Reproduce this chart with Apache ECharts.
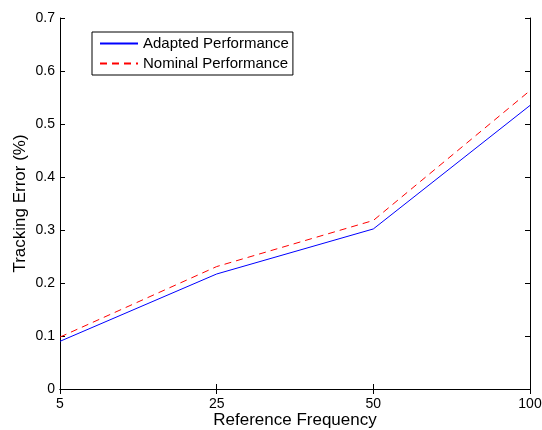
<!DOCTYPE html>
<html>
<head>
<meta charset="utf-8">
<script src="https://cdn.jsdelivr.net/npm/echarts@6/dist/echarts.min.js"></script>
<style>
  html, body { margin: 0; padding: 0; background: #fff; }
  #chart { width: 542px; height: 430px; }
</style>
</head>
<body>
<div id="chart"></div>
<script>
const frequencies = ['5', '25', '50', '100'];
const adapted = [0.090, 0.217, 0.302, 0.535];
const nominal = [0.098, 0.231, 0.318, 0.563];
const yTicks = { min: 0, max: 0.7, interval: 0.1 };

const font = 'Liberation Sans, Arial, Helvetica, sans-serif';
const chart = echarts.init(document.getElementById('chart'));

const option = {
  animation: false,
  backgroundColor: '#fff',
  grid: { left: 60, right: 12, top: 18, bottom: 41, containLabel: false, outerBoundsMode: 'none' },
  legend: {
    orient: 'vertical',
    left: 92,
    top: 32,
    padding: [4, 4, 4, 7],
    itemGap: 5,
    itemWidth: 38,
    itemHeight: 14,
    borderColor: '#000',
    borderWidth: 1,
    backgroundColor: '#fff',
    itemStyle: { opacity: 0 },
    textStyle: { fontFamily: font, fontSize: 15, color: '#000' },
    data: ['Adapted Performance', 'Nominal Performance']
  },
  xAxis: [
    {
      type: 'category',
      data: frequencies,
      boundaryGap: false,
      name: 'Reference Frequency',
      nameLocation: 'middle',
      nameGap: 23,
      nameMoveOverlap: false,
      nameTextStyle: { fontFamily: font, fontSize: 17, color: '#000' },
      axisLine: { lineStyle: { color: '#000', width: 1 } },
      axisTick: { inside: true, length: 5, lineStyle: { color: '#000' } },
      axisLabel: { fontFamily: font, fontSize: 14, color: '#000', margin: 8 },
      splitLine: { show: false }
    },
    {
      type: 'category',
      data: frequencies,
      boundaryGap: false,
      position: 'top',
      axisLine: { lineStyle: { color: '#000', width: 1 } },
      axisTick: { inside: true, length: 5, lineStyle: { color: '#000' } },
      axisLabel: { show: false },
      splitLine: { show: false }
    }
  ],
  yAxis: [
    {
      type: 'value',
      min: yTicks.min,
      max: yTicks.max,
      interval: yTicks.interval,
      name: 'Tracking Error (%)',
      nameLocation: 'middle',
      nameGap: 31,
      nameMoveOverlap: false,
      nameTextStyle: { fontFamily: font, fontSize: 17, color: '#000' },
      axisLine: { show: true, lineStyle: { color: '#000', width: 1 } },
      axisTick: { show: true, inside: true, length: 5, lineStyle: { color: '#000' } },
      axisLabel: { fontFamily: font, fontSize: 14, color: '#000', margin: 5 },
      splitLine: { show: false }
    },
    {
      type: 'value',
      position: 'right',
      min: yTicks.min,
      max: yTicks.max,
      interval: yTicks.interval,
      axisLine: { show: true, lineStyle: { color: '#000', width: 1 } },
      axisTick: { show: true, inside: true, length: 5, lineStyle: { color: '#000' } },
      axisLabel: { show: false },
      splitLine: { show: false }
    }
  ],
  series: [
    {
      name: 'Adapted Performance',
      type: 'line',
      data: adapted,
      showSymbol: false,
      symbol: 'none',
      itemStyle: { color: '#0000ff' },
      lineStyle: { color: '#0000ff', width: 1 }
    },
    {
      name: 'Nominal Performance',
      type: 'line',
      data: nominal,
      showSymbol: false,
      symbol: 'none',
      itemStyle: { color: '#ff0000' },
      lineStyle: { color: '#ff0000', width: 1, type: [7, 5] }
    }
  ]
};

chart.setOption(option);
</script>
</body>
</html>
